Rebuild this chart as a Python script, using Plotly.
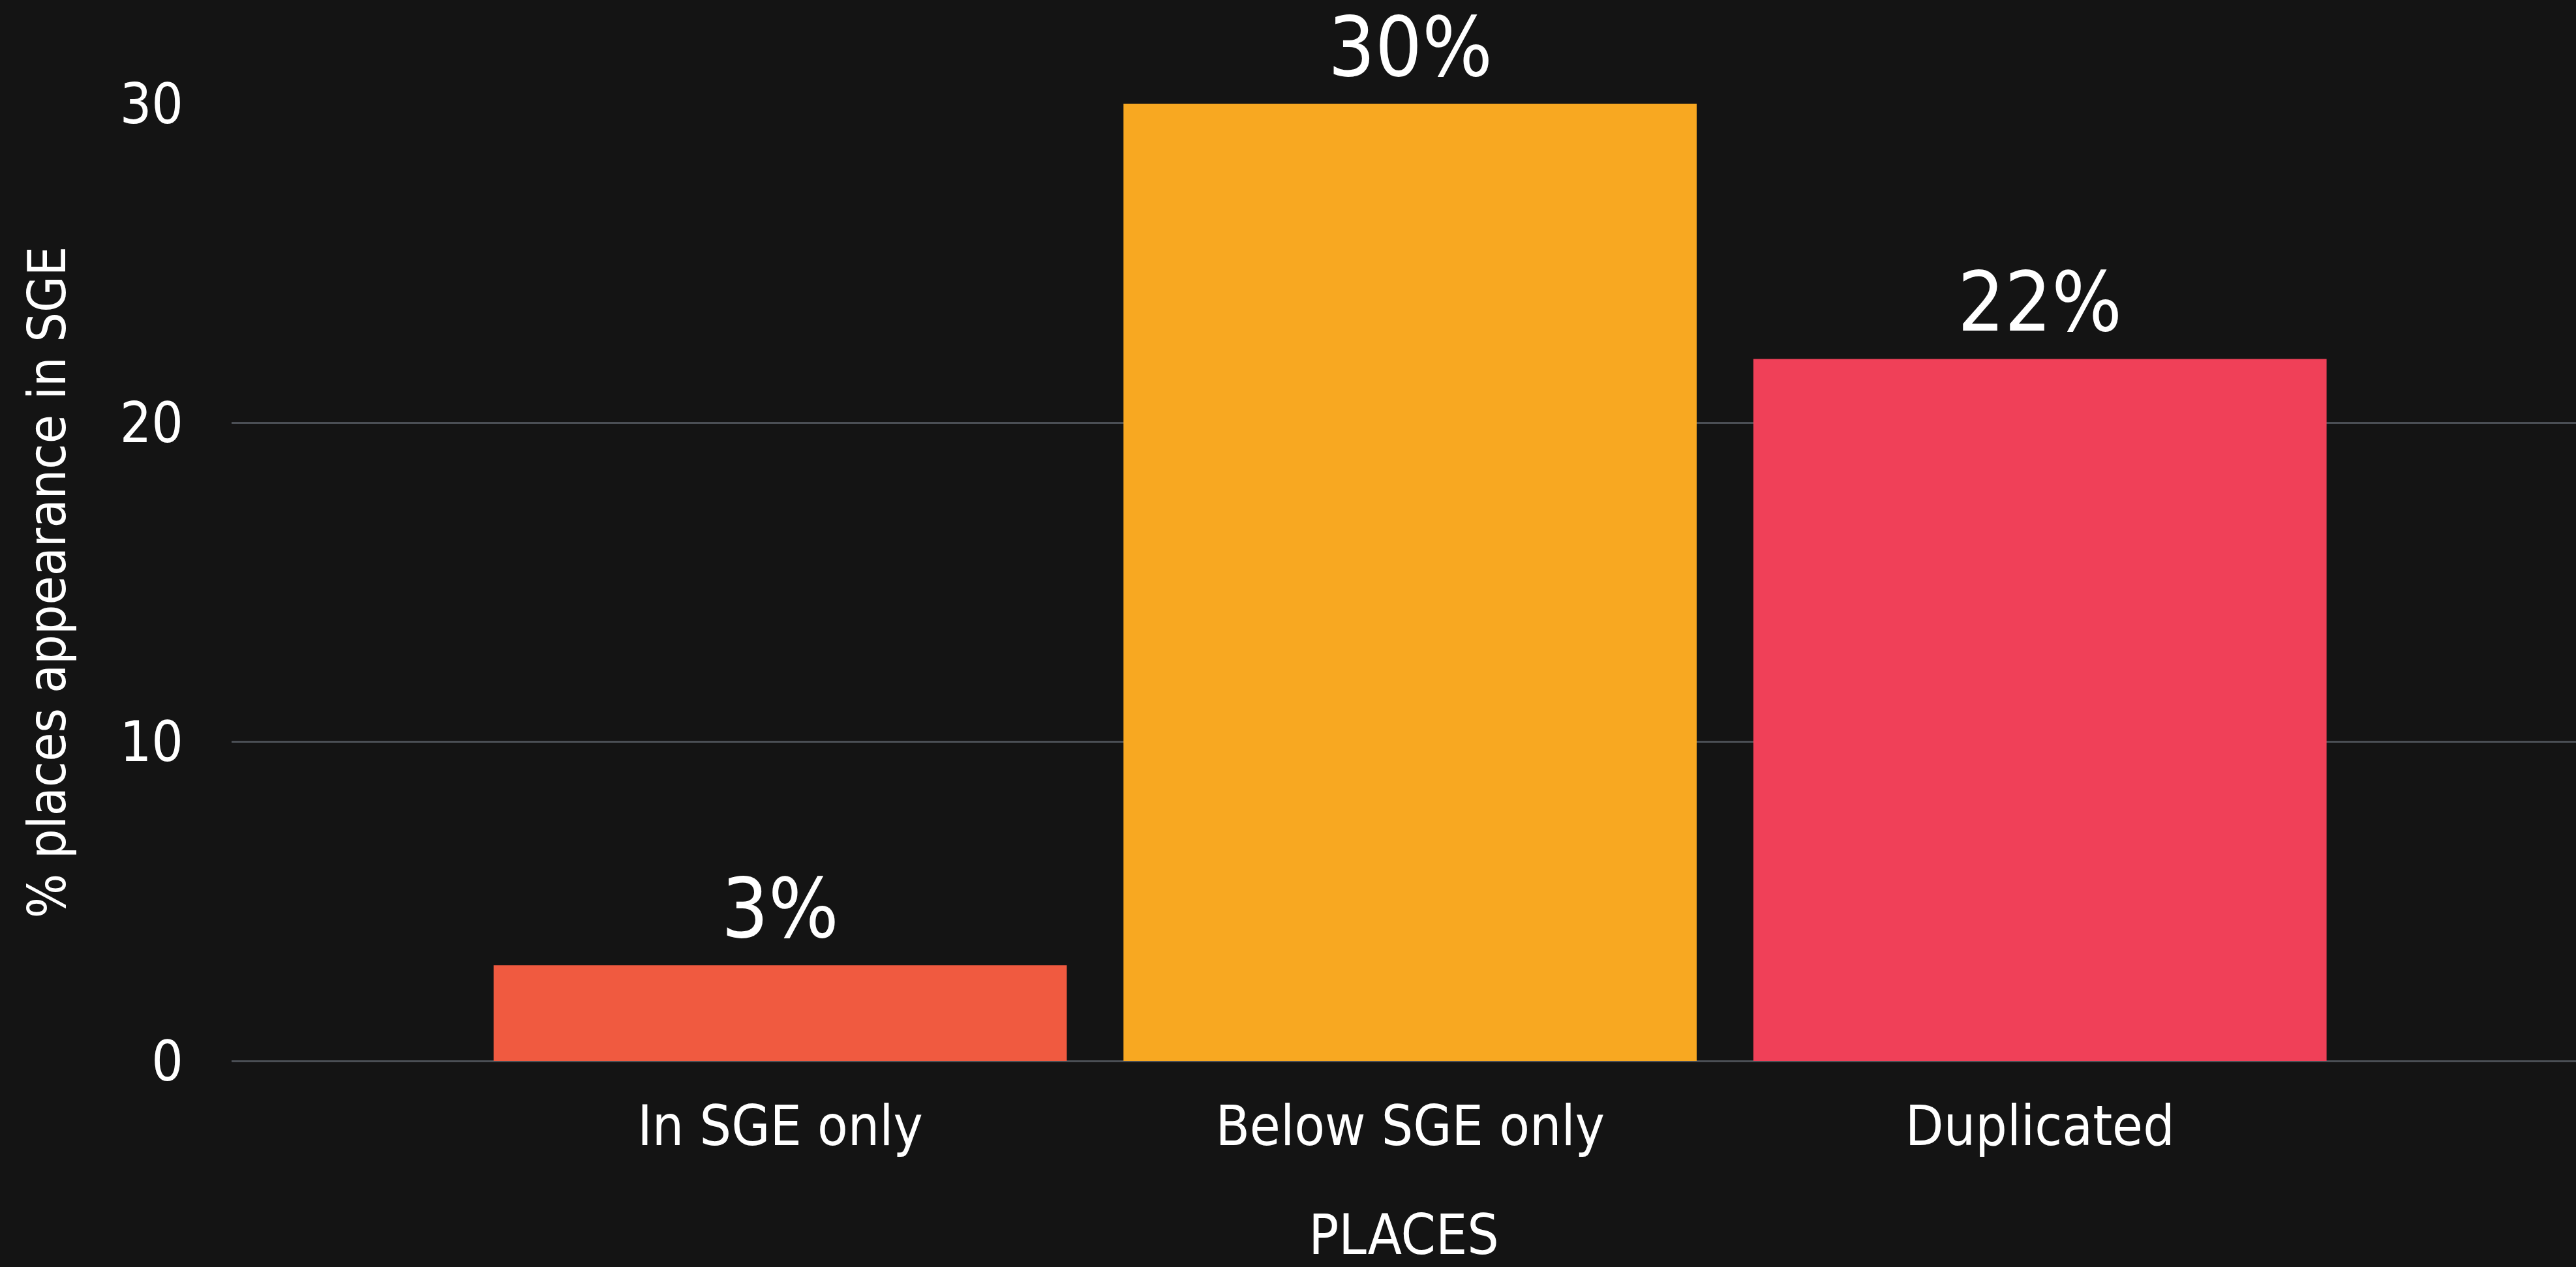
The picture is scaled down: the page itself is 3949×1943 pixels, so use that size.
import plotly.graph_objects as go

categories = ["In SGE only", "Below SGE only", "Duplicated"]
values = [3, 30, 22]
labels = ["3%", "30%", "22%"]
colors = ["#F05A40", "#F8A821", "#F04058"]
y_ticks = [0, 10, 20, 30]

FONT = "Liberation Sans Narrow, DejaVu Sans Condensed, Roboto, sans-serif"

fig = go.Figure(go.Bar(
    x=categories, y=values,
    marker=dict(color=colors, line=dict(width=0)),
    width=0.91, cliponaxis=False,
))

for c, v, t in zip(categories, values, labels):
    fig.add_annotation(
        x=c, y=v, text=t, showarrow=False, yanchor="bottom", yshift=12, borderpad=0,
        font=dict(size=126, color="white", family=FONT),
    )

fig.update_layout(
    width=3949, height=1943,
    margin=dict(l=355, r=0, t=159, b=316),
    paper_bgcolor="#141414", plot_bgcolor="#141414",
    font=dict(family=FONT, color="white", size=85),
    showlegend=False,
)
fig.update_xaxes(
    range=[-0.871, 2.851], showgrid=False, zeroline=False, showline=False,
    ticks="", ticklabelstandoff=43,
    tickfont=dict(size=85, color="white", family=FONT),
    title=dict(text="PLACES", font=dict(size=85, color="white", family=FONT), standoff=102),
)
fig.update_yaxes(
    range=[0, 30], tickvals=y_ticks, showgrid=True, gridcolor="#4B4F55", gridwidth=3,
    zeroline=True, zerolinecolor="#4B4F55", zerolinewidth=3,
    ticks="", ticklabelstandoff=73,
    tickfont=dict(size=85, color="white", family=FONT),
    title=dict(text="% places appearance in SGE", font=dict(size=80, color="white", family=FONT), standoff=56),
)

fig.write_html("out.html", config={"displayModeBar": False},
               post_script="document.body.style.margin='0';")
